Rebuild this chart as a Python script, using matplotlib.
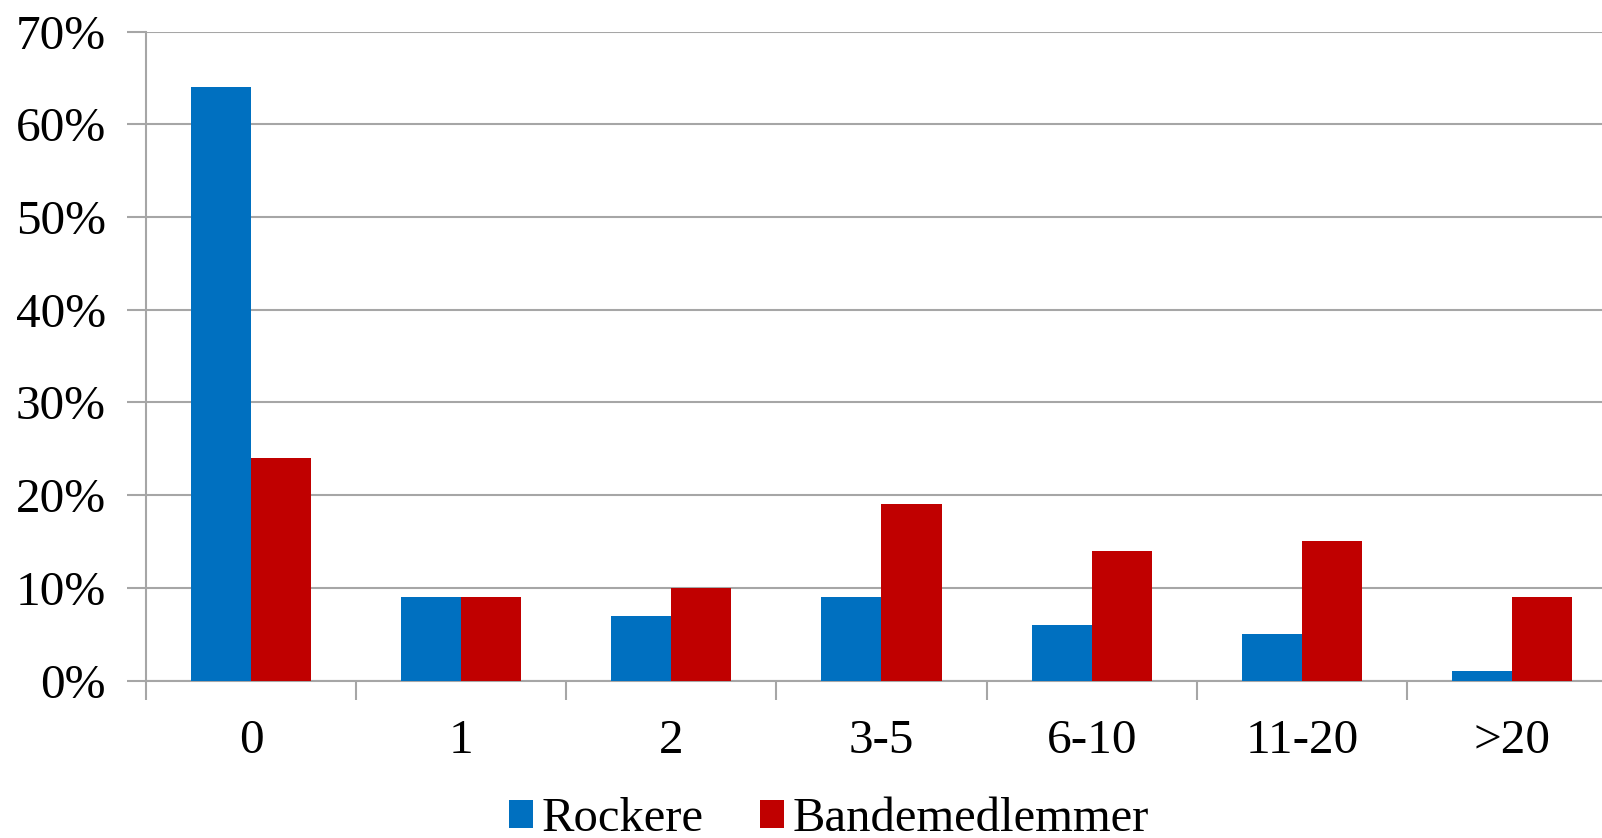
import matplotlib
matplotlib.use("Agg")
import matplotlib.pyplot as plt
import numpy as np
from matplotlib.ticker import FixedLocator, PercentFormatter

categories = ["0", "1", "2", "3-5", "6-10", "11-20", ">20"]
rockere = [64, 9, 7, 9, 6, 5, 1]
bandemedlemmer = [24, 9, 10, 19, 14, 15, 9]
yticks = [0, 10, 20, 30, 40, 50, 60, 70]

plt.rcParams['font.family'] = ['Liberation Serif', 'DejaVu Serif']

W, H = 1602, 838
fig = plt.figure(figsize=(W / 100, H / 100), dpi=100)
left, right, bottom_px, top_px = 146, 1617, 680.5, 31.7
ax = fig.add_axes([left / W, (H - bottom_px) / H, (right - left) / W, (bottom_px - top_px) / H])

x = np.arange(len(categories))
bw = 1 / 3.5
blue = "#0070C0"
red = "#C00000"
grid_c = "#A6A6A6"

ax.bar(x - bw / 2, rockere, width=bw, color=blue, label="Rockere", zorder=3)
ax.bar(x + bw / 2, bandemedlemmer, width=bw, color=red, label="Bandemedlemmer", zorder=3)

ax.set_xlim(-0.5, len(categories) - 0.5)
ax.set_ylim(0, 70)
ax.set_yticks(yticks)
ax.yaxis.set_major_formatter(PercentFormatter(decimals=0))
ax.set_xticks(x)
ax.set_xticklabels(categories)
ax.xaxis.set_minor_locator(FixedLocator(np.arange(-0.5, len(categories), 1.0)))

for s in ["top", "right"]:
    ax.spines[s].set_visible(False)
for s in ["left", "bottom"]:
    ax.spines[s].set_color(grid_c)
    ax.spines[s].set_linewidth(1.5)

ax.yaxis.grid(True, color=grid_c, linewidth=1.5, zorder=0)
ax.set_axisbelow(True)

ax.tick_params(axis="y", length=14, width=1.5, color=grid_c, pad=15, labelsize=35.5)
ax.tick_params(axis="x", which="major", length=0, pad=28, labelsize=35.5)
ax.tick_params(axis="x", which="minor", length=14, width=1.5, color=grid_c)

leg = fig.legend(loc="center", bbox_to_anchor=(829 / W, 1 - 819 / H), ncol=2, frameon=False,
                 fontsize=35, handlelength=0.5, handleheight=0.5, handletextpad=0.18,
                 columnspacing=1.15, borderaxespad=0, borderpad=0)

fig.savefig("out.png", dpi=100)
